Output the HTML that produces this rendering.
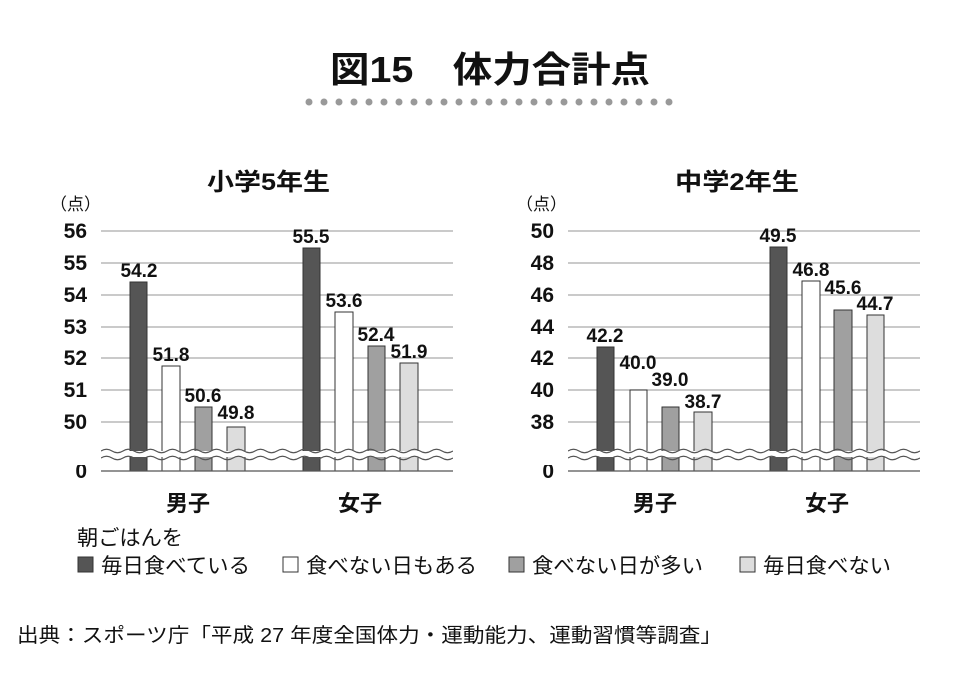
<!DOCTYPE html>
<html><head><meta charset="utf-8"><style>
body{margin:0;background:#fff;}
svg{display:block;font-family:"Liberation Sans","Noto Sans CJK JP",sans-serif;}
</style></head><body>
<svg width="980" height="696" viewBox="0 0 980 696" xmlns="http://www.w3.org/2000/svg">
<defs>
<path id="wv" d="M0,0 q5.5,-3.5 11,0 t11,0 t11,0 t11,0 t11,0 t11,0 t11,0 t11,0 t11,0 t11,0 t11,0 t11,0 t11,0 t11,0 t11,0 t11,0 t11,0 t11,0 t11,0 t11,0 t11,0 t11,0 t11,0 t11,0 t11,0 t11,0 t11,0 t11,0 t11,0 t11,0 t11,0 t11,0" />
</defs>
<text x="330" y="82" font-size="36" font-weight="bold" fill="#111" textLength="320" lengthAdjust="spacingAndGlyphs">図15　体力合計点</text>
<g fill="#999">
<circle cx="309" cy="102" r="3.5"/><circle cx="324" cy="102" r="3.5"/><circle cx="339" cy="102" r="3.5"/><circle cx="354" cy="102" r="3.5"/><circle cx="369" cy="102" r="3.5"/><circle cx="384" cy="102" r="3.5"/><circle cx="399" cy="102" r="3.5"/><circle cx="414" cy="102" r="3.5"/><circle cx="429" cy="102" r="3.5"/><circle cx="444" cy="102" r="3.5"/><circle cx="459" cy="102" r="3.5"/><circle cx="474" cy="102" r="3.5"/><circle cx="489" cy="102" r="3.5"/><circle cx="504" cy="102" r="3.5"/><circle cx="519" cy="102" r="3.5"/><circle cx="534" cy="102" r="3.5"/><circle cx="549" cy="102" r="3.5"/><circle cx="564" cy="102" r="3.5"/><circle cx="579" cy="102" r="3.5"/><circle cx="594" cy="102" r="3.5"/><circle cx="609" cy="102" r="3.5"/><circle cx="624" cy="102" r="3.5"/><circle cx="639" cy="102" r="3.5"/><circle cx="654" cy="102" r="3.5"/><circle cx="669" cy="102" r="3.5"/>
</g>

<!-- LEFT CHART -->
<text x="207" y="190" font-size="24" font-weight="bold" fill="#111" textLength="123" lengthAdjust="spacingAndGlyphs">小学5年生</text>
<text x="50" y="210" font-size="17" fill="#111">（点）</text>
<g stroke="#aaa" stroke-width="1.2">
<line x1="101" x2="453" y1="231" y2="231"/><line x1="101" x2="453" y1="263" y2="263"/><line x1="101" x2="453" y1="295" y2="295"/><line x1="101" x2="453" y1="327" y2="327"/><line x1="101" x2="453" y1="358" y2="358"/><line x1="101" x2="453" y1="390" y2="390"/><line x1="101" x2="453" y1="422" y2="422"/>
</g>
<g font-size="21" font-weight="bold" fill="#111" text-anchor="end">
<text x="87" y="238">56</text><text x="87" y="270">55</text><text x="87" y="302">54</text><text x="87" y="334">53</text><text x="87" y="365">52</text><text x="87" y="397">51</text><text x="87" y="429">50</text><text x="87" y="478">0</text>
</g>
<g stroke="#333" stroke-width="1">
<rect x="130" y="282" width="17" height="189" fill="#555"/>
<rect x="162" y="366" width="18" height="105" fill="#fff"/>
<rect x="195" y="407" width="17" height="64" fill="#a0a0a0"/>
<rect x="227" y="427" width="18" height="44" fill="#ddd"/>
<rect x="303" y="248" width="17" height="223" fill="#555"/>
<rect x="335" y="312" width="18" height="159" fill="#fff"/>
<rect x="368" y="346" width="17" height="125" fill="#a0a0a0"/>
<rect x="400" y="363" width="18" height="108" fill="#ddd"/>
</g>
<g font-size="19" font-weight="bold" fill="#111" text-anchor="middle">
<text x="139" y="277">54.2</text><text x="171" y="361">51.8</text><text x="203" y="402">50.6</text><text x="236" y="419">49.8</text>
<text x="311" y="243">55.5</text><text x="344" y="307">53.6</text><text x="376" y="341">52.4</text><text x="409" y="358">51.9</text>
</g>
<rect x="101" y="451" width="352" height="6" fill="#fff"/>
<g fill="none" stroke="#555" stroke-width="1.2">
<use href="#wv" x="101" y="451"/><use href="#wv" x="101" y="458"/>
</g>
<rect x="453" y="440" width="40" height="25" fill="#fff"/>
<rect x="60" y="440" width="41" height="25" fill="#fff"/>
<line x1="101" x2="453" y1="471" y2="471" stroke="#555" stroke-width="1.2"/>
<text x="188" y="511" text-anchor="middle" font-size="22" font-weight="bold" fill="#111">男子</text>
<text x="360" y="511" text-anchor="middle" font-size="22" font-weight="bold" fill="#111">女子</text>

<!-- RIGHT CHART -->
<text x="675" y="190" font-size="24" font-weight="bold" fill="#111" textLength="124" lengthAdjust="spacingAndGlyphs">中学2年生</text>
<text x="516" y="210" font-size="17" fill="#111">（点）</text>
<g stroke="#aaa" stroke-width="1.2">
<line x1="568" x2="920" y1="231" y2="231"/><line x1="568" x2="920" y1="263" y2="263"/><line x1="568" x2="920" y1="295" y2="295"/><line x1="568" x2="920" y1="327" y2="327"/><line x1="568" x2="920" y1="358" y2="358"/><line x1="568" x2="920" y1="390" y2="390"/><line x1="568" x2="920" y1="422" y2="422"/>
</g>
<g font-size="21" font-weight="bold" fill="#111" text-anchor="end">
<text x="554" y="238">50</text><text x="554" y="270">48</text><text x="554" y="302">46</text><text x="554" y="334">44</text><text x="554" y="365">42</text><text x="554" y="397">40</text><text x="554" y="429">38</text><text x="554" y="478">0</text>
</g>
<g stroke="#333" stroke-width="1">
<rect x="597" y="347" width="17" height="124" fill="#555"/>
<rect x="630" y="390" width="17" height="81" fill="#fff"/>
<rect x="662" y="407" width="17" height="64" fill="#a0a0a0"/>
<rect x="694" y="412" width="18" height="59" fill="#ddd"/>
<rect x="770" y="247" width="17" height="224" fill="#555"/>
<rect x="802" y="281" width="18" height="190" fill="#fff"/>
<rect x="834" y="310" width="18" height="161" fill="#a0a0a0"/>
<rect x="867" y="315" width="17" height="156" fill="#ddd"/>
</g>
<g font-size="19" font-weight="bold" fill="#111" text-anchor="middle">
<text x="605" y="342">42.2</text><text x="638" y="369">40.0</text><text x="670" y="386">39.0</text><text x="703" y="408">38.7</text>
<text x="778" y="242">49.5</text><text x="811" y="276">46.8</text><text x="843" y="294">45.6</text><text x="875" y="310">44.7</text>
</g>
<rect x="568" y="451" width="352" height="6" fill="#fff"/>
<g fill="none" stroke="#555" stroke-width="1.2">
<use href="#wv" x="568" y="451"/><use href="#wv" x="568" y="458"/>
</g>
<rect x="920" y="440" width="60" height="25" fill="#fff"/>
<rect x="500" y="440" width="68" height="25" fill="#fff"/>
<line x1="568" x2="920" y1="471" y2="471" stroke="#555" stroke-width="1.2"/>
<text x="655" y="511" text-anchor="middle" font-size="22" font-weight="bold" fill="#111">男子</text>
<text x="827" y="511" text-anchor="middle" font-size="22" font-weight="bold" fill="#111">女子</text>

<!-- LEGEND -->
<text x="77" y="545" font-size="21" fill="#111" textLength="106" lengthAdjust="spacingAndGlyphs">朝ごはんを</text>
<g stroke="#333" stroke-width="1">
<rect x="78" y="557" width="15" height="15" fill="#555"/>
<rect x="283" y="557" width="15" height="15" fill="#fff"/>
<rect x="509" y="557" width="15" height="15" fill="#a0a0a0"/>
<rect x="740" y="557" width="15" height="15" fill="#ddd"/>
</g>
<g font-size="21" fill="#111">
<text x="101" y="573" textLength="149" lengthAdjust="spacingAndGlyphs">毎日食べている</text>
<text x="306" y="573" textLength="171" lengthAdjust="spacingAndGlyphs">食べない日もある</text>
<text x="532" y="573" textLength="171" lengthAdjust="spacingAndGlyphs">食べない日が多い</text>
<text x="763" y="573" textLength="128" lengthAdjust="spacingAndGlyphs">毎日食べない</text>
</g>
<text x="17" y="642" font-size="20" fill="#111" textLength="705" lengthAdjust="spacingAndGlyphs">出典：スポーツ庁「平成 27 年度全国体力・運動能力、運動習慣等調査」</text>
</svg>
</body></html>
